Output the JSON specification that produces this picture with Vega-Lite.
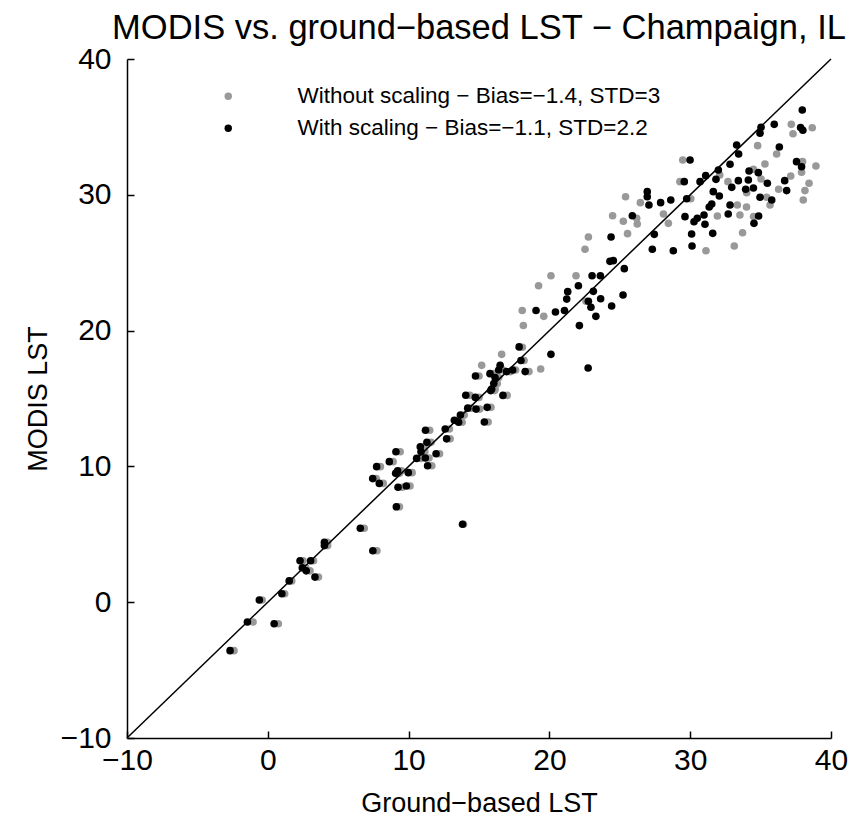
{
 "$schema": "https://vega.github.io/schema/vega-lite/v6.json",
 "width": 704,
 "height": 679,
 "autosize": "none",
 "padding": {"left": 127, "top": 59, "right": 33, "bottom": 84},
 "background": "white",
 "config": {"view": {"stroke": null}, "font": "Liberation Sans"},
 "title": {"text": "MODIS vs. ground−based LST − Champaign, IL", "fontSize": 34.5, "fontWeight": "normal", "font": "Liberation Sans", "color": "black", "offset": -2, "anchor": "middle"},
 "datasets": {
  "pts": [
   {"ground": -2.4, "modis": -3.57, "series": "Without scaling − Bias=−1.4, STD=3"},
   {"ground": -1.05, "modis": -1.46, "series": "Without scaling − Bias=−1.4, STD=3"},
   {"ground": -0.4, "modis": 0.16, "series": "Without scaling − Bias=−1.4, STD=3"},
   {"ground": 0.75, "modis": -1.59, "series": "Without scaling − Bias=−1.4, STD=3"},
   {"ground": 1.2, "modis": 0.62, "series": "Without scaling − Bias=−1.4, STD=3"},
   {"ground": 1.7, "modis": 1.57, "series": "Without scaling − Bias=−1.4, STD=3"},
   {"ground": 2.5, "modis": 3.05, "series": "Without scaling − Bias=−1.4, STD=3"},
   {"ground": 3.25, "modis": 3.05, "series": "Without scaling − Bias=−1.4, STD=3"},
   {"ground": 2.7, "modis": 2.53, "series": "Without scaling − Bias=−1.4, STD=3"},
   {"ground": 3.0, "modis": 2.31, "series": "Without scaling − Bias=−1.4, STD=3"},
   {"ground": 3.6, "modis": 1.85, "series": "Without scaling − Bias=−1.4, STD=3"},
   {"ground": 4.25, "modis": 4.41, "series": "Without scaling − Bias=−1.4, STD=3"},
   {"ground": 4.25, "modis": 4.17, "series": "Without scaling − Bias=−1.4, STD=3"},
   {"ground": 7.75, "modis": 3.79, "series": "Without scaling − Bias=−1.4, STD=3"},
   {"ground": 6.85, "modis": 5.45, "series": "Without scaling − Bias=−1.4, STD=3"},
   {"ground": 9.35, "modis": 7.03, "series": "Without scaling − Bias=−1.4, STD=3"},
   {"ground": 13.9, "modis": 5.74, "series": "Without scaling − Bias=−1.4, STD=3"},
   {"ground": 7.7, "modis": 9.1, "series": "Without scaling − Bias=−1.4, STD=3"},
   {"ground": 8.2, "modis": 8.75, "series": "Without scaling − Bias=−1.4, STD=3"},
   {"ground": 9.55, "modis": 8.46, "series": "Without scaling − Bias=−1.4, STD=3"},
   {"ground": 10.1, "modis": 8.56, "series": "Without scaling − Bias=−1.4, STD=3"},
   {"ground": 8.0, "modis": 9.98, "series": "Without scaling − Bias=−1.4, STD=3"},
   {"ground": 9.5, "modis": 9.68, "series": "Without scaling − Bias=−1.4, STD=3"},
   {"ground": 10.25, "modis": 9.54, "series": "Without scaling − Bias=−1.4, STD=3"},
   {"ground": 9.35, "modis": 9.49, "series": "Without scaling − Bias=−1.4, STD=3"},
   {"ground": 9.4, "modis": 11.08, "series": "Without scaling − Bias=−1.4, STD=3"},
   {"ground": 8.9, "modis": 10.35, "series": "Without scaling − Bias=−1.4, STD=3"},
   {"ground": 10.85, "modis": 10.59, "series": "Without scaling − Bias=−1.4, STD=3"},
   {"ground": 11.45, "modis": 10.62, "series": "Without scaling − Bias=−1.4, STD=3"},
   {"ground": 11.65, "modis": 10.05, "series": "Without scaling − Bias=−1.4, STD=3"},
   {"ground": 12.2, "modis": 10.93, "series": "Without scaling − Bias=−1.4, STD=3"},
   {"ground": 11.15, "modis": 11.08, "series": "Without scaling − Bias=−1.4, STD=3"},
   {"ground": 11.1, "modis": 11.45, "series": "Without scaling − Bias=−1.4, STD=3"},
   {"ground": 11.6, "modis": 11.77, "series": "Without scaling − Bias=−1.4, STD=3"},
   {"ground": 11.5, "modis": 12.66, "series": "Without scaling − Bias=−1.4, STD=3"},
   {"ground": 12.9, "modis": 12.75, "series": "Without scaling − Bias=−1.4, STD=3"},
   {"ground": 12.95, "modis": 12.03, "series": "Without scaling − Bias=−1.4, STD=3"},
   {"ground": 13.5, "modis": 13.4, "series": "Without scaling − Bias=−1.4, STD=3"},
   {"ground": 13.8, "modis": 13.25, "series": "Without scaling − Bias=−1.4, STD=3"},
   {"ground": 13.95, "modis": 13.78, "series": "Without scaling − Bias=−1.4, STD=3"},
   {"ground": 15.65, "modis": 13.27, "series": "Without scaling − Bias=−1.4, STD=3"},
   {"ground": 14.45, "modis": 14.29, "series": "Without scaling − Bias=−1.4, STD=3"},
   {"ground": 15.05, "modis": 14.22, "series": "Without scaling − Bias=−1.4, STD=3"},
   {"ground": 15.85, "modis": 14.35, "series": "Without scaling − Bias=−1.4, STD=3"},
   {"ground": 14.35, "modis": 15.24, "series": "Without scaling − Bias=−1.4, STD=3"},
   {"ground": 15.0, "modis": 15.08, "series": "Without scaling − Bias=−1.4, STD=3"},
   {"ground": 16.1, "modis": 15.58, "series": "Without scaling − Bias=−1.4, STD=3"},
   {"ground": 16.15, "modis": 15.7, "series": "Without scaling − Bias=−1.4, STD=3"},
   {"ground": 16.3, "modis": 16.1, "series": "Without scaling − Bias=−1.4, STD=3"},
   {"ground": 17.0, "modis": 15.23, "series": "Without scaling − Bias=−1.4, STD=3"},
   {"ground": 15.0, "modis": 16.66, "series": "Without scaling − Bias=−1.4, STD=3"},
   {"ground": 16.05, "modis": 16.83, "series": "Without scaling − Bias=−1.4, STD=3"},
   {"ground": 16.7, "modis": 17.1, "series": "Without scaling − Bias=−1.4, STD=3"},
   {"ground": 17.25, "modis": 16.98, "series": "Without scaling − Bias=−1.4, STD=3"},
   {"ground": 17.6, "modis": 17.1, "series": "Without scaling − Bias=−1.4, STD=3"},
   {"ground": 18.55, "modis": 16.98, "series": "Without scaling − Bias=−1.4, STD=3"},
   {"ground": 16.4, "modis": 16.54, "series": "Without scaling − Bias=−1.4, STD=3"},
   {"ground": 15.19, "modis": 17.44, "series": "Without scaling − Bias=−1.4, STD=3"},
   {"ground": 16.61, "modis": 18.25, "series": "Without scaling − Bias=−1.4, STD=3"},
   {"ground": 18.08, "modis": 18.77, "series": "Without scaling − Bias=−1.4, STD=3"},
   {"ground": 18.2, "modis": 17.8, "series": "Without scaling − Bias=−1.4, STD=3"},
   {"ground": 19.38, "modis": 17.17, "series": "Without scaling − Bias=−1.4, STD=3"},
   {"ground": 18.15, "modis": 20.38, "series": "Without scaling − Bias=−1.4, STD=3"},
   {"ground": 18.07, "modis": 21.48, "series": "Without scaling − Bias=−1.4, STD=3"},
   {"ground": 19.6, "modis": 21.05, "series": "Without scaling − Bias=−1.4, STD=3"},
   {"ground": 22.6, "modis": 22.16, "series": "Without scaling − Bias=−1.4, STD=3"},
   {"ground": 19.23, "modis": 23.3, "series": "Without scaling − Bias=−1.4, STD=3"},
   {"ground": 20.11, "modis": 24.04, "series": "Without scaling − Bias=−1.4, STD=3"},
   {"ground": 21.89, "modis": 24.04, "series": "Without scaling − Bias=−1.4, STD=3"},
   {"ground": 22.53, "modis": 25.99, "series": "Without scaling − Bias=−1.4, STD=3"},
   {"ground": 22.77, "modis": 26.89, "series": "Without scaling − Bias=−1.4, STD=3"},
   {"ground": 25.55, "modis": 27.14, "series": "Without scaling − Bias=−1.4, STD=3"},
   {"ground": 26.24, "modis": 27.85, "series": "Without scaling − Bias=−1.4, STD=3"},
   {"ground": 25.25, "modis": 28.05, "series": "Without scaling − Bias=−1.4, STD=3"},
   {"ground": 24.49, "modis": 28.46, "series": "Without scaling − Bias=−1.4, STD=3"},
   {"ground": 26.2, "modis": 28.27, "series": "Without scaling − Bias=−1.4, STD=3"},
   {"ground": 26.46, "modis": 29.42, "series": "Without scaling − Bias=−1.4, STD=3"},
   {"ground": 25.41, "modis": 29.86, "series": "Without scaling − Bias=−1.4, STD=3"},
   {"ground": 28.1, "modis": 28.59, "series": "Without scaling − Bias=−1.4, STD=3"},
   {"ground": 28.45, "modis": 27.9, "series": "Without scaling − Bias=−1.4, STD=3"},
   {"ground": 31.12, "modis": 25.88, "series": "Without scaling − Bias=−1.4, STD=3"},
   {"ground": 33.13, "modis": 26.23, "series": "Without scaling − Bias=−1.4, STD=3"},
   {"ground": 33.72, "modis": 27.21, "series": "Without scaling − Bias=−1.4, STD=3"},
   {"ground": 31.93, "modis": 28.44, "series": "Without scaling − Bias=−1.4, STD=3"},
   {"ground": 33.53, "modis": 28.51, "series": "Without scaling − Bias=−1.4, STD=3"},
   {"ground": 34.5, "modis": 28.4, "series": "Without scaling − Bias=−1.4, STD=3"},
   {"ground": 30.04, "modis": 29.71, "series": "Without scaling − Bias=−1.4, STD=3"},
   {"ground": 33.35, "modis": 29.25, "series": "Without scaling − Bias=−1.4, STD=3"},
   {"ground": 34.0, "modis": 29.1, "series": "Without scaling − Bias=−1.4, STD=3"},
   {"ground": 35.67, "modis": 29.25, "series": "Without scaling − Bias=−1.4, STD=3"},
   {"ground": 34.01, "modis": 30.16, "series": "Without scaling − Bias=−1.4, STD=3"},
   {"ground": 35.43, "modis": 29.82, "series": "Without scaling − Bias=−1.4, STD=3"},
   {"ground": 38.03, "modis": 29.62, "series": "Without scaling − Bias=−1.4, STD=3"},
   {"ground": 36.28, "modis": 30.41, "series": "Without scaling − Bias=−1.4, STD=3"},
   {"ground": 38.15, "modis": 30.31, "series": "Without scaling − Bias=−1.4, STD=3"},
   {"ground": 38.44, "modis": 30.85, "series": "Without scaling − Bias=−1.4, STD=3"},
   {"ground": 29.27, "modis": 30.97, "series": "Without scaling − Bias=−1.4, STD=3"},
   {"ground": 32.68, "modis": 30.97, "series": "Without scaling − Bias=−1.4, STD=3"},
   {"ground": 35.03, "modis": 31.16, "series": "Without scaling − Bias=−1.4, STD=3"},
   {"ground": 37.14, "modis": 31.38, "series": "Without scaling − Bias=−1.4, STD=3"},
   {"ground": 32.1, "modis": 31.46, "series": "Without scaling − Bias=−1.4, STD=3"},
   {"ground": 37.91, "modis": 31.66, "series": "Without scaling − Bias=−1.4, STD=3"},
   {"ground": 34.49, "modis": 31.88, "series": "Without scaling − Bias=−1.4, STD=3"},
   {"ground": 38.93, "modis": 32.12, "series": "Without scaling − Bias=−1.4, STD=3"},
   {"ground": 37.98, "modis": 32.44, "series": "Without scaling − Bias=−1.4, STD=3"},
   {"ground": 35.31, "modis": 32.27, "series": "Without scaling − Bias=−1.4, STD=3"},
   {"ground": 29.47, "modis": 32.56, "series": "Without scaling − Bias=−1.4, STD=3"},
   {"ground": 36.14, "modis": 33.0, "series": "Without scaling − Bias=−1.4, STD=3"},
   {"ground": 34.79, "modis": 33.62, "series": "Without scaling − Bias=−1.4, STD=3"},
   {"ground": 37.3, "modis": 34.5, "series": "Without scaling − Bias=−1.4, STD=3"},
   {"ground": 38.67, "modis": 34.94, "series": "Without scaling − Bias=−1.4, STD=3"},
   {"ground": 37.18, "modis": 35.19, "series": "Without scaling − Bias=−1.4, STD=3"},
   {"ground": -2.68, "modis": -3.57, "series": "With scaling − Bias=−1.1, STD=2.2"},
   {"ground": -1.45, "modis": -1.46, "series": "With scaling − Bias=−1.1, STD=2.2"},
   {"ground": -0.6, "modis": 0.16, "series": "With scaling − Bias=−1.1, STD=2.2"},
   {"ground": 0.45, "modis": -1.59, "series": "With scaling − Bias=−1.1, STD=2.2"},
   {"ground": 1.0, "modis": 0.62, "series": "With scaling − Bias=−1.1, STD=2.2"},
   {"ground": 1.52, "modis": 1.57, "series": "With scaling − Bias=−1.1, STD=2.2"},
   {"ground": 2.29, "modis": 3.05, "series": "With scaling − Bias=−1.1, STD=2.2"},
   {"ground": 3.04, "modis": 3.05, "series": "With scaling − Bias=−1.1, STD=2.2"},
   {"ground": 2.45, "modis": 2.53, "series": "With scaling − Bias=−1.1, STD=2.2"},
   {"ground": 2.73, "modis": 2.31, "series": "With scaling − Bias=−1.1, STD=2.2"},
   {"ground": 3.35, "modis": 1.85, "series": "With scaling − Bias=−1.1, STD=2.2"},
   {"ground": 4.02, "modis": 4.41, "series": "With scaling − Bias=−1.1, STD=2.2"},
   {"ground": 4.02, "modis": 4.17, "series": "With scaling − Bias=−1.1, STD=2.2"},
   {"ground": 7.46, "modis": 3.79, "series": "With scaling − Bias=−1.1, STD=2.2"},
   {"ground": 6.57, "modis": 5.45, "series": "With scaling − Bias=−1.1, STD=2.2"},
   {"ground": 9.13, "modis": 7.03, "series": "With scaling − Bias=−1.1, STD=2.2"},
   {"ground": 13.83, "modis": 5.74, "series": "With scaling − Bias=−1.1, STD=2.2"},
   {"ground": 7.45, "modis": 9.1, "series": "With scaling − Bias=−1.1, STD=2.2"},
   {"ground": 7.92, "modis": 8.75, "series": "With scaling − Bias=−1.1, STD=2.2"},
   {"ground": 9.25, "modis": 8.46, "series": "With scaling − Bias=−1.1, STD=2.2"},
   {"ground": 9.84, "modis": 8.56, "series": "With scaling − Bias=−1.1, STD=2.2"},
   {"ground": 7.73, "modis": 9.98, "series": "With scaling − Bias=−1.1, STD=2.2"},
   {"ground": 9.22, "modis": 9.68, "series": "With scaling − Bias=−1.1, STD=2.2"},
   {"ground": 9.98, "modis": 9.54, "series": "With scaling − Bias=−1.1, STD=2.2"},
   {"ground": 9.08, "modis": 9.49, "series": "With scaling − Bias=−1.1, STD=2.2"},
   {"ground": 9.1, "modis": 11.08, "series": "With scaling − Bias=−1.1, STD=2.2"},
   {"ground": 8.63, "modis": 10.35, "series": "With scaling − Bias=−1.1, STD=2.2"},
   {"ground": 10.57, "modis": 10.59, "series": "With scaling − Bias=−1.1, STD=2.2"},
   {"ground": 11.19, "modis": 10.62, "series": "With scaling − Bias=−1.1, STD=2.2"},
   {"ground": 11.35, "modis": 10.05, "series": "With scaling − Bias=−1.1, STD=2.2"},
   {"ground": 11.95, "modis": 10.93, "series": "With scaling − Bias=−1.1, STD=2.2"},
   {"ground": 10.88, "modis": 11.08, "series": "With scaling − Bias=−1.1, STD=2.2"},
   {"ground": 10.83, "modis": 11.45, "series": "With scaling − Bias=−1.1, STD=2.2"},
   {"ground": 11.3, "modis": 11.77, "series": "With scaling − Bias=−1.1, STD=2.2"},
   {"ground": 11.2, "modis": 12.66, "series": "With scaling − Bias=−1.1, STD=2.2"},
   {"ground": 12.6, "modis": 12.75, "series": "With scaling − Bias=−1.1, STD=2.2"},
   {"ground": 12.7, "modis": 12.03, "series": "With scaling − Bias=−1.1, STD=2.2"},
   {"ground": 13.25, "modis": 13.4, "series": "With scaling − Bias=−1.1, STD=2.2"},
   {"ground": 13.55, "modis": 13.25, "series": "With scaling − Bias=−1.1, STD=2.2"},
   {"ground": 13.68, "modis": 13.78, "series": "With scaling − Bias=−1.1, STD=2.2"},
   {"ground": 15.38, "modis": 13.27, "series": "With scaling − Bias=−1.1, STD=2.2"},
   {"ground": 14.2, "modis": 14.29, "series": "With scaling − Bias=−1.1, STD=2.2"},
   {"ground": 14.79, "modis": 14.22, "series": "With scaling − Bias=−1.1, STD=2.2"},
   {"ground": 15.58, "modis": 14.35, "series": "With scaling − Bias=−1.1, STD=2.2"},
   {"ground": 14.06, "modis": 15.24, "series": "With scaling − Bias=−1.1, STD=2.2"},
   {"ground": 14.74, "modis": 15.08, "series": "With scaling − Bias=−1.1, STD=2.2"},
   {"ground": 15.83, "modis": 15.58, "series": "With scaling − Bias=−1.1, STD=2.2"},
   {"ground": 15.9, "modis": 15.7, "series": "With scaling − Bias=−1.1, STD=2.2"},
   {"ground": 16.05, "modis": 16.1, "series": "With scaling − Bias=−1.1, STD=2.2"},
   {"ground": 16.7, "modis": 15.23, "series": "With scaling − Bias=−1.1, STD=2.2"},
   {"ground": 14.75, "modis": 16.66, "series": "With scaling − Bias=−1.1, STD=2.2"},
   {"ground": 15.78, "modis": 16.83, "series": "With scaling − Bias=−1.1, STD=2.2"},
   {"ground": 16.4, "modis": 17.1, "series": "With scaling − Bias=−1.1, STD=2.2"},
   {"ground": 16.96, "modis": 16.98, "series": "With scaling − Bias=−1.1, STD=2.2"},
   {"ground": 17.39, "modis": 17.1, "series": "With scaling − Bias=−1.1, STD=2.2"},
   {"ground": 18.28, "modis": 16.98, "series": "With scaling − Bias=−1.1, STD=2.2"},
   {"ground": 16.14, "modis": 16.54, "series": "With scaling − Bias=−1.1, STD=2.2"},
   {"ground": 16.5, "modis": 17.44, "series": "With scaling − Bias=−1.1, STD=2.2"},
   {"ground": 17.98, "modis": 17.8, "series": "With scaling − Bias=−1.1, STD=2.2"},
   {"ground": 17.85, "modis": 18.8, "series": "With scaling − Bias=−1.1, STD=2.2"},
   {"ground": 20.11, "modis": 18.25, "series": "With scaling − Bias=−1.1, STD=2.2"},
   {"ground": 22.75, "modis": 17.25, "series": "With scaling − Bias=−1.1, STD=2.2"},
   {"ground": 22.13, "modis": 20.37, "series": "With scaling − Bias=−1.1, STD=2.2"},
   {"ground": 19.05, "modis": 21.48, "series": "With scaling − Bias=−1.1, STD=2.2"},
   {"ground": 20.43, "modis": 21.37, "series": "With scaling − Bias=−1.1, STD=2.2"},
   {"ground": 21.07, "modis": 21.48, "series": "With scaling − Bias=−1.1, STD=2.2"},
   {"ground": 23.3, "modis": 21.05, "series": "With scaling − Bias=−1.1, STD=2.2"},
   {"ground": 22.95, "modis": 21.72, "series": "With scaling − Bias=−1.1, STD=2.2"},
   {"ground": 24.42, "modis": 21.81, "series": "With scaling − Bias=−1.1, STD=2.2"},
   {"ground": 21.23, "modis": 22.32, "series": "With scaling − Bias=−1.1, STD=2.2"},
   {"ground": 22.77, "modis": 22.16, "series": "With scaling − Bias=−1.1, STD=2.2"},
   {"ground": 23.64, "modis": 22.35, "series": "With scaling − Bias=−1.1, STD=2.2"},
   {"ground": 25.23, "modis": 22.62, "series": "With scaling − Bias=−1.1, STD=2.2"},
   {"ground": 21.3, "modis": 22.87, "series": "With scaling − Bias=−1.1, STD=2.2"},
   {"ground": 23.12, "modis": 22.89, "series": "With scaling − Bias=−1.1, STD=2.2"},
   {"ground": 22.06, "modis": 23.3, "series": "With scaling − Bias=−1.1, STD=2.2"},
   {"ground": 23.03, "modis": 24.04, "series": "With scaling − Bias=−1.1, STD=2.2"},
   {"ground": 23.62, "modis": 24.04, "series": "With scaling − Bias=−1.1, STD=2.2"},
   {"ground": 25.32, "modis": 24.56, "series": "With scaling − Bias=−1.1, STD=2.2"},
   {"ground": 24.3, "modis": 25.1, "series": "With scaling − Bias=−1.1, STD=2.2"},
   {"ground": 24.54, "modis": 25.15, "series": "With scaling − Bias=−1.1, STD=2.2"},
   {"ground": 24.38, "modis": 26.89, "series": "With scaling − Bias=−1.1, STD=2.2"},
   {"ground": 27.31, "modis": 25.99, "series": "With scaling − Bias=−1.1, STD=2.2"},
   {"ground": 28.8, "modis": 25.88, "series": "With scaling − Bias=−1.1, STD=2.2"},
   {"ground": 27.45, "modis": 27.09, "series": "With scaling − Bias=−1.1, STD=2.2"},
   {"ground": 25.89, "modis": 28.46, "series": "With scaling − Bias=−1.1, STD=2.2"},
   {"ground": 26.95, "modis": 30.23, "series": "With scaling − Bias=−1.1, STD=2.2"},
   {"ground": 26.95, "modis": 29.86, "series": "With scaling − Bias=−1.1, STD=2.2"},
   {"ground": 27.07, "modis": 29.25, "series": "With scaling − Bias=−1.1, STD=2.2"},
   {"ground": 27.9, "modis": 29.42, "series": "With scaling − Bias=−1.1, STD=2.2"},
   {"ground": 28.62, "modis": 29.62, "series": "With scaling − Bias=−1.1, STD=2.2"},
   {"ground": 29.75, "modis": 29.71, "series": "With scaling − Bias=−1.1, STD=2.2"},
   {"ground": 29.63, "modis": 28.39, "series": "With scaling − Bias=−1.1, STD=2.2"},
   {"ground": 30.27, "modis": 28.02, "series": "With scaling − Bias=−1.1, STD=2.2"},
   {"ground": 30.5, "modis": 28.27, "series": "With scaling − Bias=−1.1, STD=2.2"},
   {"ground": 30.98, "modis": 28.51, "series": "With scaling − Bias=−1.1, STD=2.2"},
   {"ground": 31.05, "modis": 27.83, "series": "With scaling − Bias=−1.1, STD=2.2"},
   {"ground": 30.1, "modis": 27.11, "series": "With scaling − Bias=−1.1, STD=2.2"},
   {"ground": 30.13, "modis": 26.23, "series": "With scaling − Bias=−1.1, STD=2.2"},
   {"ground": 31.6, "modis": 27.16, "series": "With scaling − Bias=−1.1, STD=2.2"},
   {"ground": 31.35, "modis": 29.1, "series": "With scaling − Bias=−1.1, STD=2.2"},
   {"ground": 31.53, "modis": 29.32, "series": "With scaling − Bias=−1.1, STD=2.2"},
   {"ground": 32.7, "modis": 28.59, "series": "With scaling − Bias=−1.1, STD=2.2"},
   {"ground": 32.83, "modis": 29.25, "series": "With scaling − Bias=−1.1, STD=2.2"},
   {"ground": 34.53, "modis": 27.9, "series": "With scaling − Bias=−1.1, STD=2.2"},
   {"ground": 34.86, "modis": 28.44, "series": "With scaling − Bias=−1.1, STD=2.2"},
   {"ground": 31.64, "modis": 30.23, "series": "With scaling − Bias=−1.1, STD=2.2"},
   {"ground": 32.07, "modis": 29.91, "series": "With scaling − Bias=−1.1, STD=2.2"},
   {"ground": 32.95, "modis": 30.55, "series": "With scaling − Bias=−1.1, STD=2.2"},
   {"ground": 33.94, "modis": 30.41, "series": "With scaling − Bias=−1.1, STD=2.2"},
   {"ground": 34.49, "modis": 30.5, "series": "With scaling − Bias=−1.1, STD=2.2"},
   {"ground": 34.96, "modis": 29.82, "series": "With scaling − Bias=−1.1, STD=2.2"},
   {"ground": 35.79, "modis": 29.62, "series": "With scaling − Bias=−1.1, STD=2.2"},
   {"ground": 36.85, "modis": 30.31, "series": "With scaling − Bias=−1.1, STD=2.2"},
   {"ground": 29.58, "modis": 30.97, "series": "With scaling − Bias=−1.1, STD=2.2"},
   {"ground": 30.7, "modis": 30.97, "series": "With scaling − Bias=−1.1, STD=2.2"},
   {"ground": 31.1, "modis": 31.41, "series": "With scaling − Bias=−1.1, STD=2.2"},
   {"ground": 31.83, "modis": 31.14, "series": "With scaling − Bias=−1.1, STD=2.2"},
   {"ground": 33.42, "modis": 31.04, "series": "With scaling − Bias=−1.1, STD=2.2"},
   {"ground": 34.13, "modis": 31.09, "series": "With scaling − Bias=−1.1, STD=2.2"},
   {"ground": 35.48, "modis": 30.85, "series": "With scaling − Bias=−1.1, STD=2.2"},
   {"ground": 36.71, "modis": 31.04, "series": "With scaling − Bias=−1.1, STD=2.2"},
   {"ground": 32.0, "modis": 31.83, "series": "With scaling − Bias=−1.1, STD=2.2"},
   {"ground": 34.18, "modis": 31.75, "series": "With scaling − Bias=−1.1, STD=2.2"},
   {"ground": 34.84, "modis": 31.63, "series": "With scaling − Bias=−1.1, STD=2.2"},
   {"ground": 32.83, "modis": 32.25, "series": "With scaling − Bias=−1.1, STD=2.2"},
   {"ground": 29.99, "modis": 32.56, "series": "With scaling − Bias=−1.1, STD=2.2"},
   {"ground": 37.55, "modis": 32.44, "series": "With scaling − Bias=−1.1, STD=2.2"},
   {"ground": 37.91, "modis": 32.07, "series": "With scaling − Bias=−1.1, STD=2.2"},
   {"ground": 33.3, "modis": 33.67, "series": "With scaling − Bias=−1.1, STD=2.2"},
   {"ground": 33.44, "modis": 33.0, "series": "With scaling − Bias=−1.1, STD=2.2"},
   {"ground": 36.33, "modis": 33.52, "series": "With scaling − Bias=−1.1, STD=2.2"},
   {"ground": 35.03, "modis": 34.97, "series": "With scaling − Bias=−1.1, STD=2.2"},
   {"ground": 34.96, "modis": 34.53, "series": "With scaling − Bias=−1.1, STD=2.2"},
   {"ground": 35.97, "modis": 35.19, "series": "With scaling − Bias=−1.1, STD=2.2"},
   {"ground": 37.84, "modis": 34.95, "series": "With scaling − Bias=−1.1, STD=2.2"},
   {"ground": 38.0, "modis": 34.75, "series": "With scaling − Bias=−1.1, STD=2.2"},
   {"ground": 37.96, "modis": 36.24, "series": "With scaling − Bias=−1.1, STD=2.2"}
  ],
  "diag": [
   {"ground": -10, "modis": -10},
   {"ground": 40, "modis": 40}
  ]
 },
 "layer": [
  {
   "data": {"name": "pts"},
   "mark": {"type": "circle", "size": 58, "opacity": 1},
   "encoding": {
    "x": {"field": "ground", "type": "quantitative",
          "scale": {"domain": [-10, 40], "nice": false, "zero": false},
          "axis": {"title": "Ground−based LST", "values": [-10, 0, 10, 20, 30, 40], "grid": false,
                   "domainColor": "black", "domainWidth": 1.5, "tickColor": "black", "tickSize": -7, "tickWidth": 1.5,
                   "labelFontSize": 30, "labelColor": "black", "labelPadding": 14, "labelFlush": false,
                   "titleFontSize": 27, "titleFontWeight": "normal", "titleColor": "black", "titlePadding": 15}},
    "y": {"field": "modis", "type": "quantitative",
          "scale": {"domain": [-10, 40], "nice": false, "zero": false},
          "axis": {"title": "MODIS LST", "values": [-10, 0, 10, 20, 30, 40], "grid": false,
                   "domainColor": "black", "domainWidth": 1.5, "tickColor": "black", "tickSize": -7, "tickWidth": 1.5,
                   "labelFontSize": 30, "labelColor": "black", "labelPadding": 23, "labelFlush": false,
                   "titleFontSize": 27, "titleFontWeight": "normal", "titleColor": "black", "titlePadding": 8}},
    "color": {"field": "series", "type": "nominal",
              "scale": {"domain": ["Without scaling − Bias=−1.4, STD=3", "With scaling − Bias=−1.1, STD=2.2"], "range": ["#999999", "#000000"]},
              "legend": {"title": null, "orient": "none", "legendX": 90, "legendY": 26, "padding": 0,
                         "labelFontSize": 22.5, "labelColor": "black", "labelOffset": 58, "labelLimit": 600,
                         "symbolSize": 55, "symbolType": "circle", "rowPadding": 9}}
   }
  },
  {
   "data": {"name": "diag"},
   "mark": {"type": "line", "color": "black", "strokeWidth": 1.5},
   "encoding": {
    "x": {"field": "ground", "type": "quantitative"},
    "y": {"field": "modis", "type": "quantitative"}
   }
  }
 ]
}
